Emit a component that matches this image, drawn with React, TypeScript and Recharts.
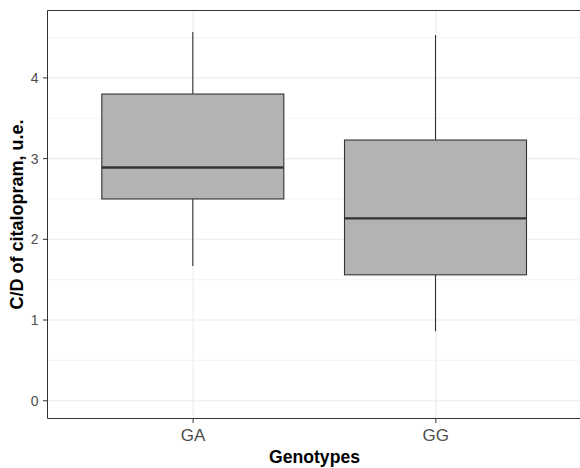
import { Bar, CartesianGrid, ComposedChart, ReferenceLine, XAxis, YAxis } from "recharts";

const genotypes = ["GA", "GG"];
const whiskerLow = [1.67, 0.86];
const lowerQuartile = [2.5, 1.56];
const medians = [2.89, 2.26];
const upperQuartile = [3.8, 3.23];
const whiskerHigh = [4.57, 4.53];

const yTicks = [0, 1, 2, 3, 4];
const yMinorTicks = [0.5, 1.5, 2.5, 3.5, 4.5];
const Y_MIN = -0.22;
const Y_MAX = 4.835;

const rows = genotypes.map((g, i) => ({
  genotype: g,
  low: whiskerLow[i],
  q1: lowerQuartile[i],
  median: medians[i],
  q3: upperQuartile[i],
  high: whiskerHigh[i],
}));

const INK = "#333333";
const FONT = "'Liberation Sans', Arial, sans-serif";
const X_PAD = 24.3;

// the bar spans low..high; the box parts are placed inside that span
function BoxShape(props: any) {
  const { x, y, width, height, payload } = props;
  const { low, q1, median, q3, high } = payload;
  const py = (v: number) => y + ((high - v) / (high - low)) * height;
  const cx = x + width / 2;
  return (
    <g>
      <line x1={cx} x2={cx} y1={py(high)} y2={py(q3)} stroke={INK} strokeWidth={1.1} />
      <line x1={cx} x2={cx} y1={py(q1)} y2={py(low)} stroke={INK} strokeWidth={1.1} />
      <rect x={x} y={py(q3)} width={width} height={py(q1) - py(q3)} fill="#b3b3b3" stroke={INK} strokeWidth={1.1} />
      <line x1={x} x2={x + width} y1={py(median)} y2={py(median)} stroke={INK} strokeWidth={2.3} />
    </g>
  );
}

// vertical grid only at the category centres
function categoryLines(props: any) {
  const { offset } = props;
  if (!offset) return [];
  const band = (offset.width - 2 * X_PAD) / genotypes.length;
  return genotypes.map((_, i) => offset.left + X_PAD + band * (i + 0.5));
}

function XTitle(props: any) {
  const vb = props.viewBox;
  return (
    <text x={vb.x + vb.width / 2} y={463} textAnchor="middle" fontFamily={FONT} fontWeight="bold" fontSize={17.6} fill="#000">
      Genotypes
    </text>
  );
}

function YTitle(props: any) {
  const vb = props.viewBox;
  const cy = vb.y + vb.height / 2;
  return (
    <text x={23} y={cy} transform={`rotate(-90, 23, ${cy})`} textAnchor="middle" fontFamily={FONT} fontWeight="bold" fontSize={18} fill="#000">
      C/D of citalopram, u.e.
    </text>
  );
}

export default function App() {
  return (
    <div style={{ position: "absolute", left: 0, top: 0, width: 580, height: 468, overflow: "hidden", background: "#fff" }}>
      <ComposedChart width={620} height={468} data={rows} margin={{ top: 10.5, right: 38.5, bottom: 0, left: 0 }}>
        <CartesianGrid horizontalValues={yMinorTicks} vertical={false} stroke="#ebebeb" strokeWidth={0.6} />
        <CartesianGrid stroke="#ebebeb" strokeWidth={1.1} verticalCoordinatesGenerator={categoryLines} />
        <XAxis
          dataKey="genotype"
          height={49.5}
          padding={{ left: X_PAD, right: X_PAD }}
          axisLine={{ stroke: INK }}
          tickLine={{ stroke: INK }}
          tickSize={4.5}
          tickMargin={6}
          tick={{ fill: "#4d4d4d", fontSize: 17, fontFamily: FONT }}
          label={<XTitle />}
        />
        <YAxis
          type="number"
          width={47.5}
          domain={[Y_MIN, Y_MAX]}
          allowDataOverflow
          ticks={yTicks}
          axisLine={{ stroke: INK }}
          tickLine={{ stroke: INK }}
          tickSize={4.5}
          tickMargin={4.5}
          tick={{ fill: "#4d4d4d", fontSize: 14, fontFamily: FONT }}
          label={<YTitle />}
        />
        <ReferenceLine y={Y_MAX} stroke={INK} strokeWidth={1} ifOverflow="visible" />
        <Bar dataKey={(d: any) => [d.low, d.high]} barSize={182} shape={<BoxShape />} isAnimationActive={false} />
      </ComposedChart>
    </div>
  );
}
